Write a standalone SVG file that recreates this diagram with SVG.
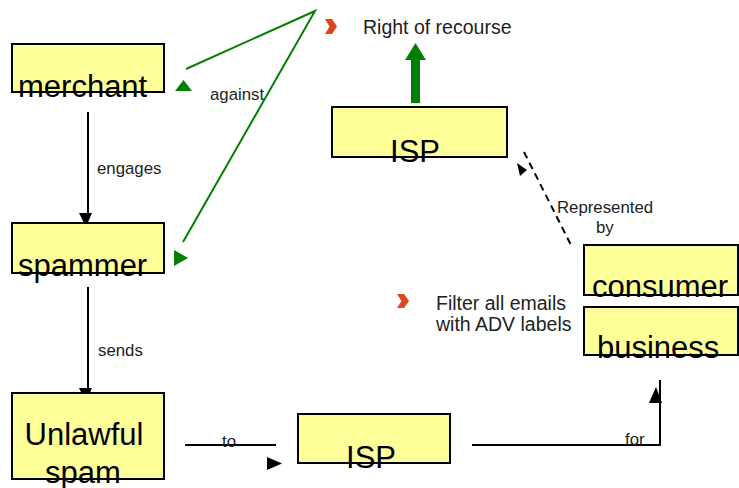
<svg xmlns="http://www.w3.org/2000/svg" width="739" height="488" viewBox="0 0 739 488">
<style>
.box{fill:#ffff99;stroke:#000;stroke-width:2}
.big{font-family:"Liberation Sans",Arial,sans-serif;font-size:31px;fill:#000}
.lbl{font-family:"Liberation Sans",Arial,sans-serif;font-size:16.8px;fill:#222}
.bul{font-family:"Liberation Sans",Arial,sans-serif;font-size:19.5px;fill:#222}
.ln{stroke:#000;stroke-width:2;fill:none}
.gl{stroke:#008000;stroke-width:2;fill:none}
.ah{fill:#000}
.gh{fill:#008000}
.chev{fill:#e0441a}
</style>
<rect width="739" height="488" fill="#fff"/>
<g id="connectors">
<line class="ln" x1="88" y1="112" x2="88" y2="216"/>
<polygon class="ah" points="79,213 92,213 86,227"/>
<line class="ln" x1="88" y1="287" x2="88" y2="390"/>
<polygon class="ah" points="79,388 92,388 86,402"/>
<line class="ln" x1="185" y1="445" x2="276" y2="445"/>
<polygon class="ah" points="267,457 282,463.5 267,470"/>
<polyline class="ln" points="472,445 660,445 660,380"/>
<polygon class="ah" points="649,403 662,403 656,387"/>
<line x1="524" y1="152" x2="572" y2="247" stroke="#000" stroke-width="2" stroke-dasharray="7,5"/>
<polygon class="ah" points="517,163 527,170 520,176"/>
<polyline class="gl" points="186,69 315,11 183,242"/>
<polygon class="gh" points="183.5,80 175,91 192,91"/>
<polygon class="gh" points="174,250 188,258 174,266"/>
<rect x="411" y="59" width="9" height="44" fill="#008000"/>
<polygon class="gh" points="405,60 426,60 415.5,43"/>
</g>
<g id="merchant">
<rect class="box" x="12" y="44" width="152" height="48"/>
<text class="big" x="18" y="97">merchant</text>
</g>
<g id="spammer">
<rect class="box" x="12" y="223" width="152" height="50"/>
<text class="big" x="18" y="276">spammer</text>
</g>
<g id="unlawful-spam">
<rect class="box" x="12" y="393" width="152" height="86"/>
<text class="big" x="84" y="445" text-anchor="middle">Unlawful</text>
<text class="big" x="83" y="483" text-anchor="middle">spam</text>
</g>
<g id="isp-bottom">
<rect class="box" x="298" y="414" width="152" height="49"/>
<text class="big" x="371" y="468" text-anchor="middle">ISP</text>
</g>
<g id="isp-top">
<rect class="box" x="332" y="107" width="175" height="50"/>
<text class="big" x="415" y="162" text-anchor="middle">ISP</text>
</g>
<g id="consumer">
<rect class="box" x="584" y="245" width="154" height="50"/>
<text class="big" x="592" y="297">consumer</text>
</g>
<g id="business">
<rect class="box" x="584" y="307" width="154" height="48"/>
<text class="big" x="597" y="358">business</text>
</g>
<g id="labels">
<text class="lbl" x="210" y="100">against</text>
<text class="lbl" x="97" y="174">engages</text>
<text class="lbl" x="98" y="356">sends</text>
<text class="lbl" x="222" y="447">to</text>
<text class="lbl" x="625" y="445">for</text>
<text class="lbl" x="557" y="213" font-size="17.5px">Represented</text>
<text class="lbl" x="596" y="233" font-size="17.5px">by</text>
</g>
<g id="right-of-recourse">
<polygon class="chev" points="325,19 332,19 337,26.5 332,34 325,34 329.5,26.5"/>
<text class="bul" x="363" y="34">Right of recourse</text>
</g>
<g id="filter">
<polygon class="chev" points="397,294 404,294 409,301 404,308 397,308 401.5,301"/>
<text class="bul" x="436" y="310">Filter all emails</text>
<text class="bul" x="436" y="331">with ADV labels</text>
</g>
</svg>
